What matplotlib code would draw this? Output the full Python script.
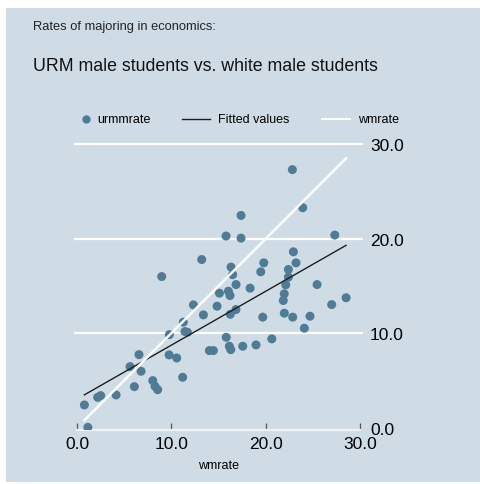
import numpy as np
import matplotlib
matplotlib.use("Agg")
import matplotlib.pyplot as plt
from matplotlib.lines import Line2D

plt.rcParams['font.family'] = ['Liberation Sans', 'DejaVu Sans']

# White male major rate (x) and URM male major rate (y), percent
wmrate = [0.78, 1.15, 2.19, 2.51, 4.14, 5.62, 6.08, 6.57, 6.79, 8.03,
          8.27, 8.55, 8.98, 9.76, 9.79, 10.57, 11.20, 11.27, 11.45, 11.70,
          12.34, 13.22, 13.40, 14.03, 14.46, 14.85, 15.10, 15.80, 15.82, 16.05,
          16.15, 16.22, 16.30, 16.25, 16.33, 16.50, 16.85, 16.86, 17.39, 17.39,
          17.57, 18.35, 18.98, 19.48, 19.69, 19.80, 20.65, 21.98, 22.13, 21.97,
          21.87, 22.41, 22.41, 22.83, 22.87, 22.94, 23.22, 23.93, 24.10, 24.70,
          25.45, 27.00, 27.33, 28.53]
urmmrate = [2.40, 0.03, 3.21, 3.39, 3.46, 6.46, 4.34, 7.73, 5.97, 4.98,
            4.38, 4.02, 16.00, 7.70, 9.85, 7.38, 5.33, 11.17, 10.17, 10.10,
            13.00, 17.80, 11.94, 8.16, 8.16, 12.86, 14.24, 20.29, 9.57, 14.45,
            8.62, 13.99, 8.26, 12.00, 17.00, 16.20, 12.50, 15.15, 22.47, 20.07,
            8.62, 14.77, 8.76, 16.50, 11.70, 17.45, 9.40, 12.12, 15.12, 14.17,
            13.46, 16.75, 15.94, 27.32, 11.70, 18.62, 17.45, 23.29, 10.53, 11.80,
            15.15, 13.03, 20.39, 13.75]

y_ticks = [0, 10, 20, 30]
x_ticks = [0, 10, 20, 30]

BG = '#d0dce5'
DOT = '#4f7b95'

x = np.array(wmrate)
y = np.array(urmmrate)
slope, intercept = np.polyfit(x, y, 1)
xs = np.array([x.min(), x.max()])

fig = plt.figure(figsize=(4.8, 4.85), dpi=100)
fig.patch.set_facecolor('white')
fig.add_artist(plt.Rectangle((6 / 480, 2 / 485), 474 / 480, 474 / 485,
                             transform=fig.transFigure, facecolor=BG,
                             edgecolor='none', zorder=-10))

ax = fig.add_axes([74 / 480, 54 / 485, 289 / 480, 288.5 / 485])
ax.set_facecolor('none')
ax.set_xlim(-0.32, 30.32)
ax.set_ylim(-0.25, 30.3)

for v in y_ticks[1:]:
    ax.axhline(v, color='white', lw=1.6, zorder=1)

ax.scatter(x, y, s=42, color=DOT, edgecolors='none', zorder=3)
ax.plot(xs, intercept + slope * xs, color='#1e1e1e', lw=1.0, zorder=4)
ax.plot(xs, xs, color='white', lw=1.7, zorder=4)

for s in ['top', 'left', 'right']:
    ax.spines[s].set_visible(False)
ax.spines['bottom'].set_bounds(0, 30)
ax.spines['bottom'].set_color('#eef2f5')
ax.spines['bottom'].set_linewidth(1.6)

ax.set_xticks(x_ticks)
ax.set_xticklabels([f'{v:.1f}' for v in x_ticks], fontsize=12.5)
ax.tick_params(axis='x', direction='in', length=5, width=0.9,
               color='#555555', pad=4)

ax.yaxis.tick_right()
ax.set_yticks(y_ticks)
ax.set_yticklabels([f'{v:.1f}' for v in y_ticks], fontsize=12.5)
ax.tick_params(axis='y', length=0, pad=5)

ax.set_xlabel('wmrate', fontsize=9, labelpad=6)

fig.text(33 / 480, 1 - 27 / 485, 'Rates of majoring in economics:',
         fontsize=9.3, va='center', ha='left', color='#222222')
fig.text(33 / 480, 1 - 67 / 485, 'URM male students vs. white male students',
         fontsize=12.8, va='center', ha='left', color='#111111')

# legend row
ly = 1 - 120 / 485
fig.add_artist(Line2D([86 / 480], [ly], marker='o', markersize=5,
                      color=DOT, linestyle='none', transform=fig.transFigure))
fig.text(97 / 480, ly, 'urmmrate', fontsize=9, va='center', ha='left')
fig.add_artist(Line2D([182 / 480, 210 / 480], [ly, ly], color='#1e1e1e',
                      lw=1.0, transform=fig.transFigure))
fig.text(218 / 480, ly, 'Fitted values', fontsize=9, va='center', ha='left')
fig.add_artist(Line2D([322 / 480, 350 / 480], [ly, ly], color='white',
                      lw=1.4, transform=fig.transFigure))
fig.text(358 / 480, ly, 'wmrate', fontsize=9, va='center', ha='left')

fig.savefig('out.png', dpi=100, facecolor=fig.get_facecolor())
